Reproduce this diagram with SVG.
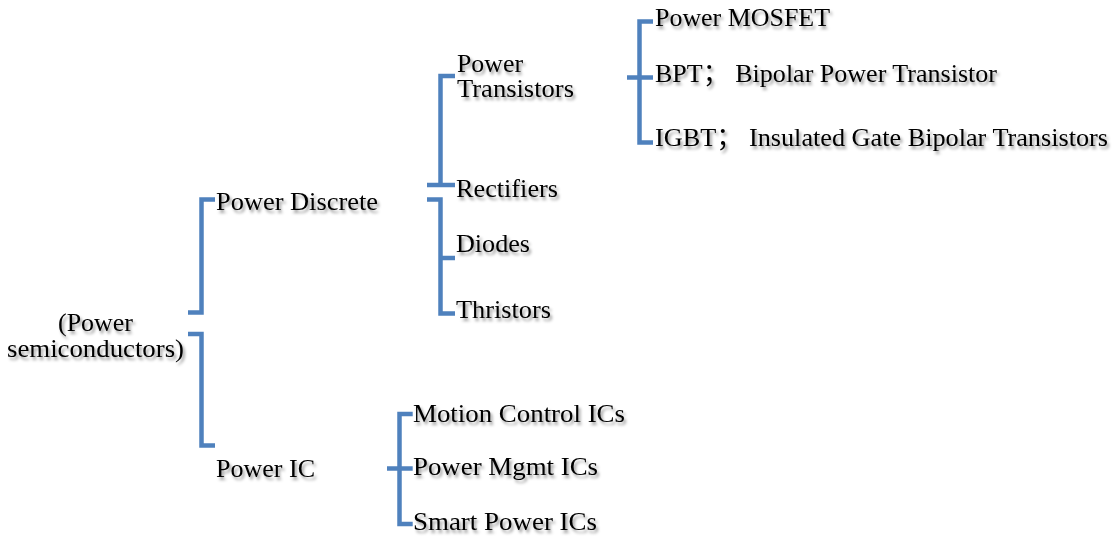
<svg xmlns="http://www.w3.org/2000/svg" width="1114" height="538" viewBox="0 0 1114 538">
<style>
.c{fill:none;stroke:#4f81bd;stroke-width:4.5;stroke-linejoin:miter;stroke-linecap:butt}
.t{font-family:"Liberation Serif","Times New Roman","Noto Sans CJK SC",serif;font-size:26px;fill:#000;filter:url(#sh)}
</style>
<defs>
<filter id="sh" x="-10%" y="-40%" width="130%" height="200%">
<feDropShadow dx="2" dy="3" stdDeviation="1.6" flood-color="#000" flood-opacity="0.4"/>
</filter>
</defs>
<rect width="1114" height="538" fill="#fff"/>
<g id="connectors">
<path class="c" d="M188,312.5 H201.5 V199.5 H215"/>
<path class="c" d="M188,334 H201.5 V445.5 H215"/>
<path class="c" d="M455,76 H440.5 V185"/>
<path class="c" d="M427,185 H455"/>
<path class="c" d="M427,199.5 H440.5 V313.5 H455"/>
<path class="c" d="M440.5,258 H455"/>
<path class="c" d="M653,21.5 H639.5 V142.5 H653"/>
<path class="c" d="M627,77.5 H653"/>
<path class="c" d="M412.7,414 H399.5 V524 H412.7"/>
<path class="c" d="M387,468.5 H412.7"/>
</g>
<g id="root"><text class="t" text-anchor="middle"><tspan x="95.5" y="331" textLength="75" lengthAdjust="spacingAndGlyphs">(Power</tspan><tspan x="95.5" y="357" textLength="177" lengthAdjust="spacingAndGlyphs">semiconductors)</tspan></text></g>
<g id="power-discrete"><text class="t" x="216" y="210" textLength="162" lengthAdjust="spacingAndGlyphs">Power Discrete</text></g>
<g id="power-ic"><text class="t" x="216" y="477" textLength="99" lengthAdjust="spacingAndGlyphs">Power IC</text></g>
<g id="power-transistors"><text class="t"><tspan x="457" y="72" textLength="66" lengthAdjust="spacingAndGlyphs">Power</tspan><tspan x="457" y="97" textLength="117" lengthAdjust="spacingAndGlyphs">Transistors</tspan></text></g>
<g id="rectifiers"><text class="t" x="456" y="197" textLength="102" lengthAdjust="spacingAndGlyphs">Rectifiers</text></g>
<g id="diodes"><text class="t" x="456" y="252" textLength="74" lengthAdjust="spacingAndGlyphs">Diodes</text></g>
<g id="thristors"><text class="t" x="456" y="318" textLength="95" lengthAdjust="spacingAndGlyphs">Thristors</text></g>
<g id="mosfet"><text class="t" x="655" y="26" textLength="175" lengthAdjust="spacingAndGlyphs">Power MOSFET</text></g>
<g id="bpt"><text class="t" x="655" y="82" textLength="342" lengthAdjust="spacingAndGlyphs">BPT； Bipolar Power Transistor</text></g>
<g id="igbt"><text class="t" x="655" y="146" textLength="453" lengthAdjust="spacingAndGlyphs">IGBT； Insulated Gate Bipolar Transistors</text></g>
<g id="motion"><text class="t" x="413" y="422" textLength="212" lengthAdjust="spacingAndGlyphs">Motion Control ICs</text></g>
<g id="mgmt"><text class="t" x="413" y="475" textLength="185" lengthAdjust="spacingAndGlyphs">Power Mgmt ICs</text></g>
<g id="smart"><text class="t" x="413" y="530" textLength="184" lengthAdjust="spacingAndGlyphs">Smart Power ICs</text></g>
</svg>
